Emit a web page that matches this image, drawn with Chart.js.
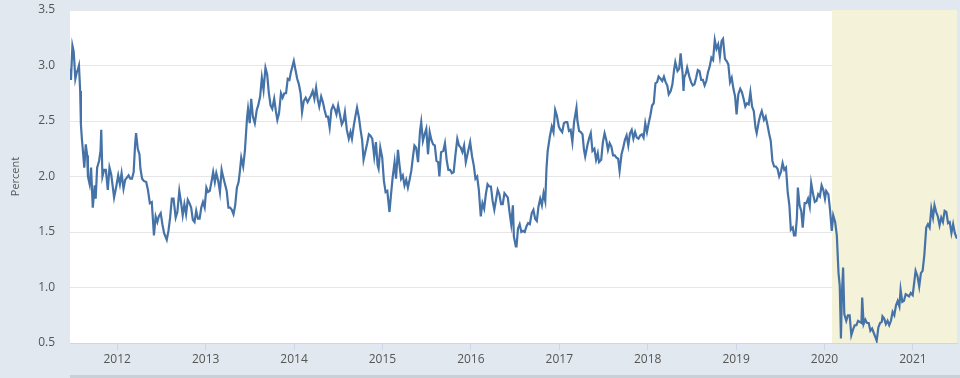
<!DOCTYPE html>
<html>
<head>
<meta charset="utf-8">
<script src="https://cdn.jsdelivr.net/npm/chart.js@4/dist/chart.umd.min.js"></script>
<style>
  html, body { margin: 0; padding: 0; background: #e1e8f0; }
  #wrap { position: relative; width: 960px; height: 378px; }
</style>
</head>
<body>
<div id="wrap"><canvas id="chart" width="960" height="378"></canvas></div>
<script>
// 10-year yield (roughly every week or two)
const dates = [
  "2011-06-20","2011-06-24","2011-06-30","2011-07-05","2011-07-08","2011-07-12","2011-07-18","2011-07-22","2011-07-27","2011-08-01","2011-08-04","2011-08-08","2011-08-12","2011-08-18","2011-08-24","2011-08-30","2011-09-02","2011-09-09","2011-09-15","2011-09-22","2011-09-30","2011-10-04","2011-10-10","2011-10-18","2011-10-24","2011-10-27","2011-11-01","2011-11-08","2011-11-15","2011-11-23","2011-11-30","2011-12-07","2011-12-14","2011-12-19","2011-12-28",
  "2012-01-05","2012-01-12","2012-01-19","2012-01-27","2012-02-03","2012-02-10","2012-02-17","2012-02-24","2012-03-02","2012-03-09","2012-03-15","2012-03-19","2012-03-26","2012-04-02","2012-04-06","2012-04-13","2012-04-20","2012-04-30","2012-05-07","2012-05-15","2012-05-23","2012-06-01","2012-06-08","2012-06-15","2012-06-21","2012-06-29","2012-07-06","2012-07-13","2012-07-24","2012-07-31","2012-08-07","2012-08-14","2012-08-21","2012-08-30","2012-09-06","2012-09-14","2012-09-21","2012-09-28","2012-10-05","2012-10-12","2012-10-19","2012-10-26","2012-11-02","2012-11-09","2012-11-16","2012-11-23","2012-11-30","2012-12-07","2012-12-14","2012-12-21","2012-12-28",
  "2013-01-04","2013-01-11","2013-01-18","2013-01-25","2013-02-01","2013-02-08","2013-02-14","2013-02-22","2013-03-01","2013-03-08","2013-03-15","2013-03-22","2013-03-29","2013-04-05","2013-04-12","2013-04-19","2013-04-26","2013-05-03","2013-05-10","2013-05-17","2013-05-22","2013-05-28","2013-06-05","2013-06-12","2013-06-21","2013-06-25","2013-07-02","2013-07-08","2013-07-15","2013-07-23","2013-07-31","2013-08-06","2013-08-14","2013-08-21","2013-08-28","2013-09-05","2013-09-12","2013-09-19","2013-09-26","2013-10-03","2013-10-11","2013-10-18","2013-10-24","2013-10-31","2013-11-08","2013-11-15","2013-11-22","2013-11-29","2013-12-06","2013-12-13","2013-12-19","2013-12-31",
  "2014-01-07","2014-01-14","2014-01-21","2014-01-28","2014-02-03","2014-02-10","2014-02-18","2014-02-26","2014-03-05","2014-03-12","2014-03-19","2014-03-26","2014-04-02","2014-04-09","2014-04-15","2014-04-23","2014-04-30","2014-05-07","2014-05-14","2014-05-21","2014-05-28","2014-06-04","2014-06-11","2014-06-18","2014-06-25","2014-07-02","2014-07-10","2014-07-17","2014-07-24","2014-07-30","2014-08-07","2014-08-15","2014-08-22","2014-08-28","2014-09-04","2014-09-11","2014-09-18","2014-09-26","2014-10-02","2014-10-09","2014-10-15","2014-10-22","2014-10-30","2014-11-06","2014-11-12","2014-11-20","2014-11-28","2014-12-05","2014-12-12","2014-12-16","2014-12-23","2014-12-31",
  "2015-01-07","2015-01-14","2015-01-21","2015-01-30","2015-02-05","2015-02-12","2015-02-20","2015-02-26","2015-03-06","2015-03-12","2015-03-19","2015-03-26","2015-04-02","2015-04-09","2015-04-16","2015-04-23","2015-04-30","2015-05-07","2015-05-13","2015-05-20","2015-05-28","2015-06-05","2015-06-10","2015-06-17","2015-06-24","2015-07-01","2015-07-08","2015-07-15","2015-07-22","2015-07-29","2015-08-05","2015-08-12","2015-08-19","2015-08-24","2015-08-31","2015-09-09","2015-09-16","2015-09-23","2015-09-30","2015-10-07","2015-10-15","2015-10-22","2015-10-29","2015-11-06","2015-11-13","2015-11-20","2015-11-27","2015-12-04","2015-12-11","2015-12-18","2015-12-29",
  "2016-01-06","2016-01-13","2016-01-20","2016-01-27","2016-02-03","2016-02-11","2016-02-18","2016-02-25","2016-03-03","2016-03-10","2016-03-17","2016-03-24","2016-03-31","2016-04-07","2016-04-14","2016-04-21","2016-04-28","2016-05-05","2016-05-12","2016-05-19","2016-05-26","2016-06-02","2016-06-09","2016-06-16","2016-06-23","2016-06-27","2016-07-05","2016-07-08","2016-07-14","2016-07-21","2016-07-28","2016-08-04","2016-08-11","2016-08-18","2016-08-25","2016-09-01","2016-09-09","2016-09-16","2016-09-23","2016-09-30","2016-10-07","2016-10-14","2016-10-21","2016-10-28","2016-11-04","2016-11-09","2016-11-14","2016-11-23","2016-12-01","2016-12-08","2016-12-15","2016-12-22","2016-12-30",
  "2017-01-06","2017-01-13","2017-01-20","2017-01-27","2017-02-03","2017-02-10","2017-02-17","2017-02-24","2017-03-03","2017-03-13","2017-03-17","2017-03-24","2017-03-31","2017-04-07","2017-04-13","2017-04-18","2017-04-28","2017-05-05","2017-05-11","2017-05-18","2017-05-26","2017-06-02","2017-06-09","2017-06-14","2017-06-23","2017-06-30","2017-07-07","2017-07-14","2017-07-21","2017-07-28","2017-08-04","2017-08-11","2017-08-18","2017-08-25","2017-09-01","2017-09-07","2017-09-15","2017-09-22","2017-09-29","2017-10-06","2017-10-13","2017-10-20","2017-10-27","2017-11-03","2017-11-10","2017-11-17","2017-11-24","2017-12-01","2017-12-08","2017-12-15","2017-12-22","2017-12-29",
  "2018-01-05","2018-01-12","2018-01-19","2018-01-26","2018-02-02","2018-02-09","2018-02-15","2018-02-23","2018-03-02","2018-03-09","2018-03-16","2018-03-23","2018-03-29","2018-04-06","2018-04-13","2018-04-20","2018-04-25","2018-05-04","2018-05-11","2018-05-17","2018-05-25","2018-05-29","2018-06-01","2018-06-08","2018-06-13","2018-06-22","2018-06-29","2018-07-06","2018-07-13","2018-07-20","2018-07-27","2018-08-03","2018-08-10","2018-08-17","2018-08-24","2018-08-31","2018-09-07","2018-09-14","2018-09-21","2018-09-28","2018-10-05","2018-10-12","2018-10-19","2018-10-26","2018-11-02","2018-11-08","2018-11-16","2018-11-23","2018-11-30","2018-12-07","2018-12-14","2018-12-21","2018-12-28",
  "2019-01-03","2019-01-10","2019-01-18","2019-01-25","2019-02-01","2019-02-08","2019-02-15","2019-02-22","2019-03-01","2019-03-08","2019-03-15","2019-03-22","2019-03-27","2019-04-05","2019-04-12","2019-04-17","2019-04-26","2019-05-03","2019-05-10","2019-05-17","2019-05-24","2019-05-31","2019-06-07","2019-06-14","2019-06-21","2019-06-28","2019-07-05","2019-07-12","2019-07-19","2019-07-26","2019-08-02","2019-08-09","2019-08-15","2019-08-23","2019-08-28","2019-09-03","2019-09-09","2019-09-13","2019-09-20","2019-09-27","2019-10-03","2019-10-11","2019-10-18","2019-10-25","2019-11-01","2019-11-07","2019-11-15","2019-11-22","2019-11-29","2019-12-06","2019-12-13","2019-12-20","2019-12-27",
  "2020-01-03","2020-01-08","2020-01-17","2020-01-24","2020-01-31","2020-02-06","2020-02-14","2020-02-21","2020-02-28","2020-03-04","2020-03-09","2020-03-13","2020-03-18","2020-03-23","2020-03-31","2020-04-07","2020-04-14","2020-04-21","2020-04-28","2020-05-05","2020-05-12","2020-05-19","2020-05-26","2020-06-02","2020-06-05","2020-06-11","2020-06-18","2020-06-25","2020-07-02","2020-07-09","2020-07-16","2020-07-23","2020-07-30","2020-08-04","2020-08-11","2020-08-18","2020-08-25","2020-08-28","2020-09-04","2020-09-11","2020-09-18","2020-09-25","2020-10-02","2020-10-09","2020-10-16","2020-10-23","2020-10-30","2020-11-06","2020-11-11","2020-11-18","2020-11-25","2020-12-02","2020-12-09","2020-12-16","2020-12-23","2020-12-31",
  "2021-01-06","2021-01-12","2021-01-20","2021-01-27","2021-02-03","2021-02-10","2021-02-17","2021-02-25","2021-03-04","2021-03-11","2021-03-18","2021-03-25","2021-03-31","2021-04-07","2021-04-14","2021-04-21","2021-04-28","2021-05-05","2021-05-12","2021-05-19","2021-05-26","2021-06-02","2021-06-09","2021-06-16","2021-06-23","2021-06-30","2021-07-02"
];
const yields = [
  2.97,2.87,3.18,3.13,3.03,2.88,2.94,2.96,3.00,2.77,2.47,2.34,2.24,2.08,2.29,2.19,2.00,1.93,2.08,1.72,1.92,1.80,2.08,2.14,2.23,2.42,2.00,2.06,2.06,1.88,2.08,2.02,1.90,1.81,1.91,
  2.01,1.93,2.03,1.89,1.97,1.99,2.01,1.98,1.98,2.04,2.29,2.39,2.25,2.20,2.07,1.98,1.96,1.95,1.88,1.76,1.77,1.47,1.64,1.59,1.64,1.67,1.57,1.49,1.43,1.51,1.63,1.80,1.80,1.63,1.68,1.87,1.77,1.65,1.75,1.66,1.79,1.76,1.72,1.61,1.59,1.69,1.62,1.62,1.72,1.77,1.72,
  1.90,1.86,1.87,1.95,2.04,1.95,2.03,1.96,1.86,2.06,1.99,1.93,1.87,1.72,1.72,1.70,1.66,1.74,1.90,1.95,2.04,2.17,2.09,2.23,2.53,2.61,2.48,2.70,2.54,2.48,2.60,2.64,2.72,2.89,2.78,2.98,2.92,2.75,2.64,2.61,2.70,2.59,2.51,2.57,2.75,2.71,2.75,2.75,2.88,2.87,2.94,3.04,
  2.96,2.88,2.83,2.75,2.58,2.68,2.71,2.67,2.70,2.73,2.77,2.70,2.80,2.69,2.63,2.72,2.67,2.60,2.54,2.54,2.44,2.60,2.64,2.61,2.56,2.64,2.55,2.47,2.50,2.58,2.42,2.34,2.40,2.34,2.45,2.54,2.62,2.53,2.43,2.33,2.15,2.22,2.30,2.38,2.37,2.34,2.18,2.31,2.10,2.07,2.26,2.17,
  1.96,1.86,1.87,1.68,1.83,1.99,2.13,1.98,2.24,2.11,1.98,2.01,1.92,1.97,1.90,1.97,2.05,2.18,2.28,2.26,2.13,2.41,2.49,2.32,2.38,2.43,2.20,2.40,2.33,2.29,2.28,2.14,2.13,2.00,2.22,2.23,2.30,2.15,2.06,2.06,2.03,2.04,2.19,2.34,2.28,2.26,2.22,2.28,2.13,2.20,2.31,
  2.18,2.10,1.98,2.00,1.88,1.64,1.76,1.71,1.84,1.93,1.91,1.91,1.78,1.70,1.79,1.88,1.84,1.75,1.75,1.85,1.83,1.81,1.68,1.57,1.74,1.46,1.37,1.37,1.53,1.57,1.50,1.51,1.50,1.55,1.58,1.57,1.67,1.70,1.62,1.60,1.73,1.80,1.74,1.85,1.78,2.07,2.23,2.36,2.45,2.40,2.60,2.55,2.45,
  2.42,2.40,2.48,2.49,2.49,2.41,2.42,2.31,2.49,2.62,2.50,2.41,2.40,2.38,2.24,2.18,2.29,2.35,2.39,2.23,2.25,2.15,2.21,2.13,2.15,2.31,2.39,2.33,2.24,2.30,2.27,2.19,2.19,2.17,2.16,2.05,2.20,2.26,2.33,2.37,2.28,2.39,2.42,2.34,2.40,2.35,2.34,2.37,2.38,2.35,2.48,2.40,
  2.48,2.55,2.64,2.66,2.84,2.85,2.90,2.88,2.86,2.90,2.85,2.82,2.74,2.77,2.83,2.96,3.03,2.95,2.97,3.11,2.93,2.77,2.89,2.93,2.98,2.90,2.85,2.82,2.83,2.89,2.96,2.95,2.87,2.87,2.82,2.86,2.94,2.99,3.07,3.05,3.23,3.15,3.19,3.08,3.22,3.24,3.06,3.04,3.01,2.85,2.89,2.79,2.72,
  2.56,2.74,2.79,2.76,2.70,2.63,2.66,2.65,2.76,2.63,2.59,2.44,2.39,2.50,2.56,2.59,2.51,2.54,2.47,2.39,2.32,2.14,2.09,2.09,2.07,2.00,2.04,2.12,2.06,2.08,1.86,1.74,1.52,1.54,1.47,1.47,1.63,1.90,1.74,1.69,1.54,1.76,1.76,1.80,1.73,1.94,1.84,1.77,1.78,1.84,1.82,1.92,1.88,
  1.80,1.87,1.84,1.70,1.51,1.65,1.59,1.47,1.13,1.02,0.54,0.94,1.18,0.76,0.70,0.75,0.75,0.57,0.62,0.66,0.66,0.70,0.69,0.68,0.91,0.67,0.71,0.68,0.68,0.61,0.63,0.59,0.55,0.52,0.64,0.68,0.69,0.74,0.72,0.67,0.70,0.66,0.70,0.78,0.75,0.84,0.88,0.83,0.98,0.87,0.88,0.94,0.93,0.92,0.95,0.93,
  1.04,1.15,1.10,1.01,1.13,1.15,1.29,1.54,1.57,1.54,1.71,1.63,1.74,1.68,1.64,1.56,1.63,1.59,1.69,1.68,1.58,1.59,1.49,1.57,1.49,1.45,1.44
];
const xTickYears = [2012, 2013, 2014, 2015, 2016, 2017, 2018, 2019, 2020, 2021];
const yTicks = [0.5, 1.0, 1.5, 2.0, 2.5, 3.0, 3.5];
const rangeStart = "2011-06-20";
const rangeEnd = "2021-07-02";
const shadeStart = "2020-02-01";

function toYear(s) {
  const d = new Date(s + "T00:00:00Z");
  const y = d.getUTCFullYear();
  const start = Date.UTC(y, 0, 1);
  const end = Date.UTC(y + 1, 0, 1);
  return y + (d.getTime() - start) / (end - start);
}

const points = dates.map((d, i) => ({ x: toYear(d), y: yields[i] }));

// white plot area + shaded band
const plotBg = {
  id: "plotBg",
  beforeDatasetsDraw(chart) {
    const { ctx, chartArea, scales } = chart;
    ctx.save();
    const sx = scales.x.getPixelForValue(toYear(shadeStart));
    ctx.fillStyle = "#f4f3d9";
    ctx.fillRect(sx, chartArea.top, chartArea.right - sx, chartArea.bottom - chartArea.top);
    ctx.restore();
  },
  beforeDraw(chart) {
    const { ctx, chartArea } = chart;
    ctx.save();
    ctx.fillStyle = "#ffffff";
    ctx.fillRect(chartArea.left, chartArea.top, chartArea.right - chartArea.left, chartArea.bottom - chartArea.top);
    ctx.fillStyle = "#c9d0d8";
    ctx.fillRect(chartArea.left, 375, chart.width - chartArea.left, 3);
    ctx.restore();
  }
};

new Chart(document.getElementById("chart"), {
  type: "line",
  data: {
    datasets: [{
      data: points,
      borderColor: "#4572a7",
      borderWidth: 2.2,
      pointRadius: 0,
      tension: 0,
      fill: false
    }]
  },
  plugins: [plotBg],
  options: {
    responsive: false,
    animation: false,
    layout: { padding: { top: 10, right: 3, left: 0, bottom: 0 } },
    plugins: { legend: { display: false }, tooltip: { enabled: false } },
    scales: {
      x: {
        type: "linear",
        min: toYear(rangeStart),
        max: toYear(rangeEnd),
        afterBuildTicks: s => { s.ticks = xTickYears.map(v => ({ value: v })); },
        afterFit: s => { s.height = 35; s.paddingLeft = 0; s.paddingRight = 0; },
        grid: { drawOnChartArea: false, color: "#ccd6eb", tickLength: 7 },
        border: { color: "#ccd6eb" },
        ticks: {
          padding: 2,
          color: "#555",
          font: { family: "Open Sans", size: 12 },
          maxRotation: 0,
          callback: v => String(v)
        }
      },
      y: {
        min: 0.5,
        max: 3.5,
        afterBuildTicks: s => { s.ticks = yTicks.map(v => ({ value: v })); },
        afterFit: s => { s.width = 70; s.paddingTop = 0; s.paddingBottom = 0; },
        grid: { color: "#e6e6e6", drawTicks: false },
        border: { display: false },
        ticks: {
          padding: 15,
          color: "#555",
          font: { family: "Open Sans", size: 12 },
          callback: v => v.toFixed(1)
        },
        title: {
          display: true,
          text: "Percent",
          color: "#555",
          font: { family: "Open Sans", size: 11 },
          padding: { top: 9, bottom: 0 }
        }
      }
    }
  }
});
</script>
</body>
</html>
